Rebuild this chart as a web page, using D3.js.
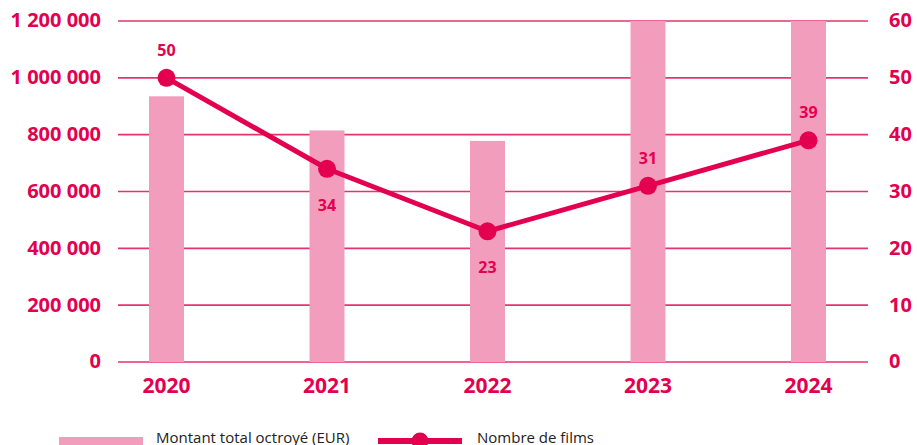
<!DOCTYPE html>
<html>
<head>
<meta charset="utf-8">
<script src="https://cdn.jsdelivr.net/npm/d3@7"></script>
<style>
  body { margin: 0; background: #fff; }
  svg { display: block; font-family: "Open Sans", sans-serif; }
</style>
</head>
<body>
<script>
"use strict";

// Data
var years = ["2020", "2021", "2022", "2023", "2024"];
var montant = [935000, 815000, 778000, 1290000, 1340000]; // 2023 & 2024 exceed the axis
var films = [50, 34, 23, 31, 39];
var leftTicks = [0, 200000, 400000, 600000, 800000, 1000000, 1200000];
var rightTicks = [0, 10, 20, 30, 40, 50, 60];
var legendLabels = ["Montant total octroyé (EUR)", "Nombre de films"];

var W = 917, H = 445;
var pink = "#e3004f", barPink = "#f39dbd", gridPink = "#e6336b";

var plot = { left: 118, right: 868, top: 21, bottom: 362 };

var svg = d3.select("body").append("svg").attr("width", W).attr("height", H);

var x = d3.scalePoint().domain(years).range([166.5, 808.5]);
var yL = d3.scaleLinear().domain([0, 1200000]).range([plot.bottom, plot.top]);
var yR = d3.scaleLinear().domain([0, 60]).range([plot.bottom, plot.top]);

var fmt = d3.formatLocale({ decimal: ",", thousands: " ", grouping: [3], currency: ["", "€"] }).format(",d");

// clip so bars over the max stop at the top gridline
svg.append("defs").append("clipPath").attr("id", "plotclip")
  .append("rect").attr("x", 0).attr("y", plot.top).attr("width", W).attr("height", plot.bottom - plot.top);

// Gridlines
svg.append("g").selectAll("line").data(leftTicks).enter().append("line")
  .attr("x1", plot.left).attr("x2", plot.right)
  .attr("y1", function (d) { return yL(d); }).attr("y2", function (d) { return yL(d); })
  .attr("stroke", gridPink).attr("stroke-width", 1.6);

// Left tick labels
svg.append("g").selectAll("text").data(leftTicks).enter().append("text")
  .attr("x", 101).attr("y", function (d) { return yL(d); }).attr("dy", "0.32em")
  .attr("text-anchor", "end").attr("fill", pink)
  .style("font-size", "20px").style("font-weight", 700)
  .text(function (d) { return fmt(d); });

// Right tick labels
svg.append("g").selectAll("text").data(rightTicks).enter().append("text")
  .attr("x", 889).attr("y", function (d) { return yR(d); }).attr("dy", "0.32em")
  .attr("text-anchor", "start").attr("fill", pink)
  .style("font-size", "20px").style("font-weight", 700)
  .text(function (d) { return d; });

// Bars
var barW = 35;
svg.append("g").attr("clip-path", "url(#plotclip)").selectAll("rect").data(montant).enter().append("rect")
  .attr("x", function (d, i) { return x(years[i]) - barW / 2; })
  .attr("y", function (d) { return yL(d); })
  .attr("width", barW)
  .attr("height", function (d) { return plot.bottom - yL(d); })
  .attr("fill", barPink);

// Year labels
svg.append("g").selectAll("text").data(years).enter().append("text")
  .attr("x", function (d) { return x(d); }).attr("y", 393)
  .attr("text-anchor", "middle").attr("fill", pink)
  .style("font-size", "21px").style("font-weight", 700)
  .text(function (d) { return d; });

// Line
var line = d3.line()
  .x(function (d, i) { return x(years[i]); })
  .y(function (d) { return yR(d); });

svg.append("path").datum(films).attr("d", line)
  .attr("fill", "none").attr("stroke", pink).attr("stroke-width", 5).attr("stroke-linejoin", "round");

svg.append("g").selectAll("circle").data(films).enter().append("circle")
  .attr("cx", function (d, i) { return x(years[i]); })
  .attr("cy", function (d) { return yR(d); })
  .attr("r", 9).attr("fill", pink);

// Point labels: 2021 and 2022 sit below their point, the rest above
svg.append("g").selectAll("text").data(films).enter().append("text")
  .attr("x", function (d, i) { return x(years[i]); })
  .attr("y", function (d, i) {
    var below = i > 0 && i < 3;
    return yR(d) + (below ? 42 : -22);
  })
  .attr("text-anchor", "middle").attr("fill", pink)
  .style("font-size", "16px").style("font-weight", 700)
  .text(function (d) { return d; });

// Legend (cut by the bottom edge, as in the original)
var legend = svg.append("g");
legend.append("rect").attr("x", 59).attr("y", 437).attr("width", 84).attr("height", 8).attr("fill", barPink);
legend.append("text").attr("x", 156).attr("y", 443).attr("fill", "#222")
  .style("font-size", "15px").text(legendLabels[0]);

legend.append("line").attr("x1", 378).attr("x2", 462).attr("y1", 441).attr("y2", 441)
  .attr("stroke", pink).attr("stroke-width", 6);
legend.append("circle").attr("cx", 420).attr("cy", 441).attr("r", 8.5).attr("fill", pink);
legend.append("text").attr("x", 477).attr("y", 443).attr("fill", "#222")
  .style("font-size", "15px").text(legendLabels[1]);
</script>
</body>
</html>
